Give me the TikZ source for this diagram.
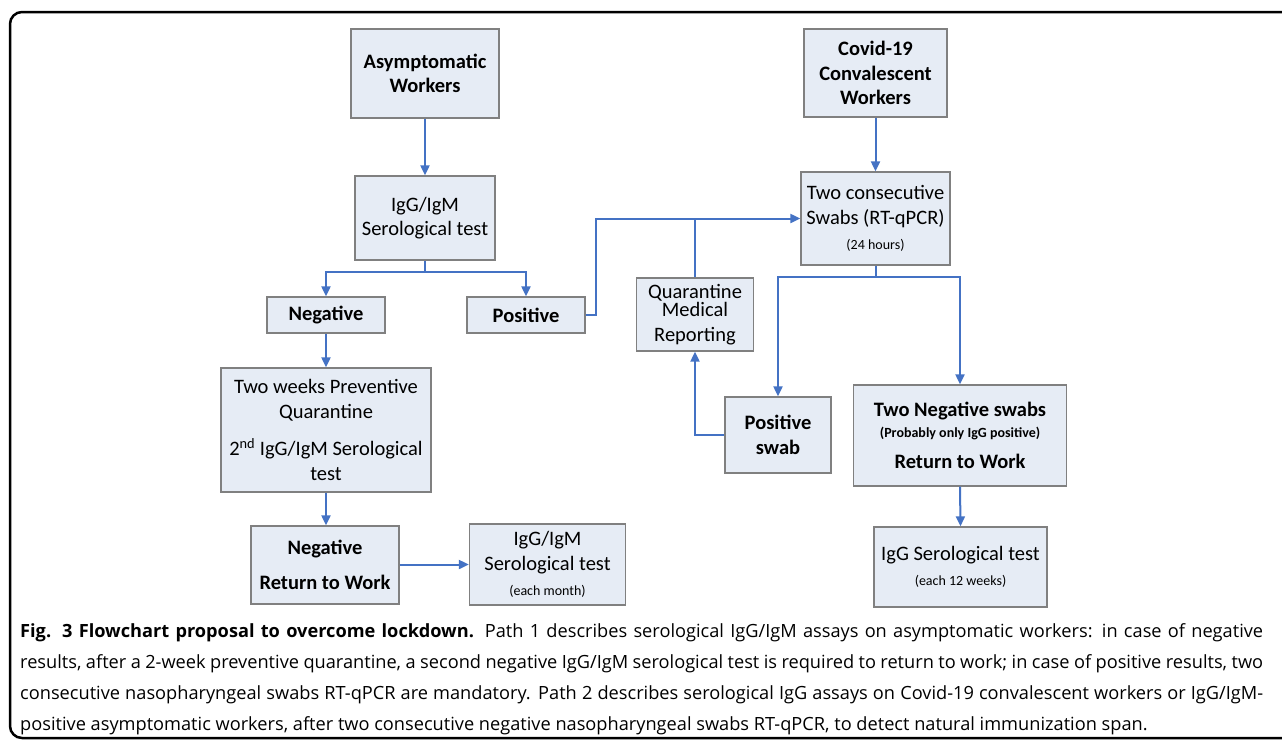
\documentclass[tikz,border=0pt]{standalone}
\usepackage{fontspec}
\setmainfont{Carlito}
\newfontfamily\capfont{Open Sans}
\usetikzlibrary{arrows.meta}
\definecolor{boxfill}{HTML}{E6ECF5}
\definecolor{boxline}{HTML}{808080}
\definecolor{arrowblue}{HTML}{4472C4}
\newcommand{\sm}{\fontsize{14}{17}\selectfont}
\newcommand{\jline}[1]{\hbox to 1243pt{#1}}
\begin{document}
\begin{tikzpicture}[x=1pt,y=-1pt,
  box/.style={draw=boxline, line width=1.3pt, fill=boxfill, inner sep=0pt, align=center,
              font=\fontsize{20.5}{24.7}\selectfont},
  boldbox/.style={box, font=\fontsize{20.5}{24.7}\selectfont\bfseries},
  conn/.style={draw=arrowblue, line width=2pt},
  arr/.style={conn, -{Triangle[length=10pt,width=9pt]}},
  capt/.style={inner sep=0pt, anchor=base west, font=\capfont\fontsize{18.2}{22}\selectfont},
]
\useasboundingbox (0,0) rectangle (1282,740);
\fill[white] (0,0) rectangle (1282,740);
\draw[line width=2.5pt, rounded corners=12pt] (10,12) rectangle (1310,738);

% left path
\node[boldbox, minimum width=148pt, minimum height=89pt] (asym) at (425,73.5) {Asymptomatic\\Workers};
\node[box, minimum width=140pt, minimum height=84pt] (sero) at (425,218) {IgG/IgM\\Serological test};
\node[boldbox, minimum width=118pt, minimum height=36pt] (neg) at (326,315) {Negative};
\node[boldbox, minimum width=118pt, minimum height=36pt] (pos) at (526,315) {Positive};
\node[box, minimum width=210pt, minimum height=124pt] (weeks) at (326,430)
  {Two weeks Preventive\\Quarantine\\[13pt]2\textsuperscript{nd} IgG/IgM Serological\\test};
\node[boldbox, minimum width=148pt, minimum height=78pt] (negret) at (325,565) {Negative\\[11pt]Return to Work};
\node[box, minimum width=156pt, minimum height=81pt] (month) at (547.5,564.5)
  {IgG/IgM\\Serological test\\{\sm (each month)}};

% right path
\node[boldbox, minimum width=143pt, minimum height=88pt] (covid) at (875.5,73) {Covid-19\\Convalescent\\Workers};
\node[box, minimum width=149pt, minimum height=93pt] (swabs) at (875.5,218.5)
  {Two consecutive\\Swabs (RT-qPCR)\\{\sm (24 hours)}};
\node[box, minimum width=117.5pt, minimum height=73pt] (quar) at (695,314.5) {Quarantine\\[-6pt]Medical\\Reporting};
\node[boldbox, minimum width=106pt, minimum height=76pt] (posswab) at (778,435) {Positive\\swab};
\node[boldbox, minimum width=213.5pt, minimum height=101pt] (twoneg) at (960,435.5)
  {Two Negative swabs\\[-4pt]{\sm (Probably only IgG positive)}\\[6pt]Return to Work};
\node[box, minimum width=173pt, minimum height=80pt] (igg) at (960.5,567)
  {IgG Serological test\\{\sm (each 12 weeks)}};

% connectors
\draw[arr] (asym) -- (sero);
\draw[arr] (sero.south) -- ++(0,11) -| (neg.north);
\draw[arr] (sero.south) -- ++(0,11) -| (pos.north);
\draw[arr] (neg) -- (weeks);
\draw[arr] (weeks.south) -- (weeks.south |- negret.north);
\draw[arr] (negret.east |- month.west) -- (month.west);
\draw[arr] (pos.east) -- ++(10,0) |- (swabs.west);
\draw[conn] (quar.north) -- (quar.north |- swabs.west);
\draw[arr] (covid) -- (swabs);
\draw[arr] (swabs.south) -- ++(0,11) -| (posswab.north);
\draw[arr] (swabs.south) -- ++(0,11) -| (twoneg.north);
\draw[arr] (posswab.west) -| (quar.south);
\draw[arr] (twoneg.south) -- (igg.north);

% caption
\node[capt] (cap1) at (20,637) {\jline{\textbf{Fig. 3 Flowchart proposal to overcome lockdown.} Path 1 describes serological IgG/IgM assays on asymptomatic workers: in case of negative}};
\node[capt] (cap2) at (20,668) {\jline{results, after a 2-week preventive quarantine, a second negative IgG/IgM serological test is required to return to work; in case of positive results, two}};
\node[capt] (cap3) at (20,699) {\jline{consecutive nasopharyngeal swabs RT-qPCR are mandatory. Path 2 describes serological IgG assays on Covid-19 convalescent workers or IgG/IgM-}};
\node[capt] (cap4) at (20,730) {positive asymptomatic workers, after two consecutive negative nasopharyngeal swabs RT-qPCR, to detect natural immunization span.};
\end{tikzpicture}
\end{document}
